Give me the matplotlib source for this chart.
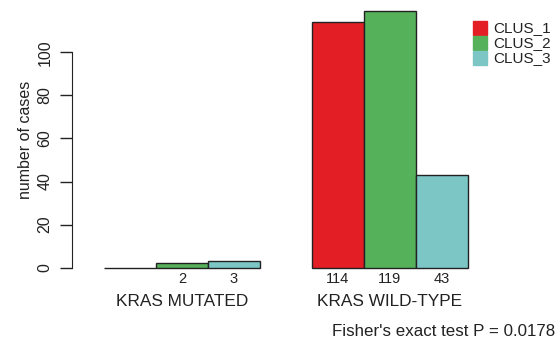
import matplotlib
matplotlib.use("Agg")
import matplotlib.pyplot as plt
import numpy as np

groups = ["KRAS MUTATED", "KRAS WILD-TYPE"]
series = ["CLUS_1", "CLUS_2", "CLUS_3"]
values = {
    "CLUS_1": [0, 114],
    "CLUS_2": [2, 119],
    "CLUS_3": [3, 43],
}
colors = ["#E31E24", "#55B15A", "#7CC7C5"]
y_ticks = [0, 20, 40, 60, 80, 100]
p_text = "Fisher's exact test P = 0.0178"

plt.rcParams['font.family'] = ['Liberation Sans', 'DejaVu Sans']

fig = plt.figure(figsize=(5.6, 3.46), dpi=100)
W, H = 560, 346
left_px, right_px, top_px, bot_px = 72, 482, 1, 278
ax = fig.add_axes([left_px / W, 1 - bot_px / H, (right_px - left_px) / W, (bot_px - top_px) / H])

n = len(series)
for gi, g in enumerate(groups):
    start = 1 + gi * (n + 1)
    for si, s in enumerate(series):
        v = values[s][gi]
        x0 = start + si
        ax.bar(x0, v, width=1, align='edge', color=colors[si], edgecolor='#222222', linewidth=1.0)
        if v > 0:
            ax.text(x0 + 0.5, -5.2, str(v), ha='center', va='center', fontsize=10.5, color='#222222')
    ax.text(start + n / 2, -15.7, g, ha='center', va='center', fontsize=12.4, color='#222222')

ax.set_xlim(0.385, 8.27)
ax.set_ylim(-4.76, 123.76)
for sp in ['top', 'right', 'bottom']:
    ax.spines[sp].set_visible(False)
ax.spines['left'].set_bounds(0, 100)
ax.spines['left'].set_color('#222222')
ax.set_xticks([])
ax.set_yticks(y_ticks)
ax.set_yticklabels([str(t) for t in y_ticks], rotation=90, va='center', fontsize=11.5, color='#222222')
ax.tick_params(axis='y', length=9, width=1, color='#222222', pad=5)
ax.set_ylabel("number of cases", fontsize=11.5, color='#222222', labelpad=3)

# legend
leg_y = [28, 43, 58]
for si, s in enumerate(series):
    y = leg_y[si]
    fig.patches.append(plt.Rectangle((473 / W, 1 - (y + 7) / H), 14 / W, 14 / H,
                                     transform=fig.transFigure, color=colors[si]))
    fig.text(493 / W, 1 - y / H, s, ha='left', va='center', fontsize=11, color='#222222')

fig.text(555 / W, 1 - 332 / H, p_text, ha='right', va='center', fontsize=12.2, color='#222222')

fig.savefig("out.png", dpi=100)
